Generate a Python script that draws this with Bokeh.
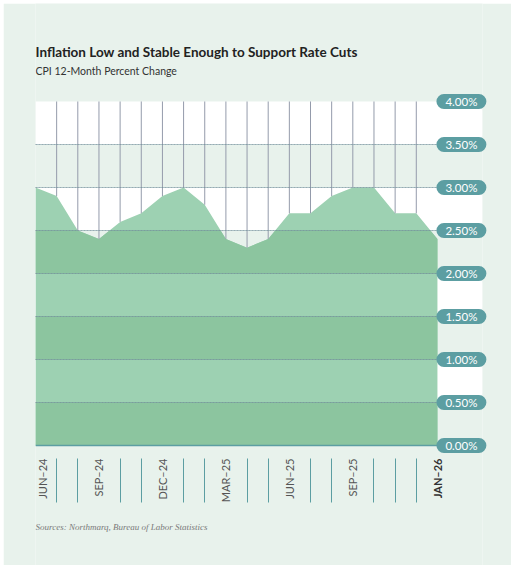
import numpy as np
from math import pi
from bokeh.plotting import figure
from bokeh.models import Range1d, FixedTicker, Grid
from bokeh.core.properties import value
from bokeh.embed import file_html
from bokeh.resources import INLINE

# ---------------- data ----------------
months = ["JUN–24", "JUL–24", "AUG–24", "SEP–24", "OCT–24", "NOV–24", "DEC–24",
          "JAN–25", "FEB–25", "MAR–25", "APR–25", "MAY–25", "JUN–25", "JUL–25",
          "AUG–25", "SEP–25", "OCT–25", "NOV–25", "DEC–25", "JAN–26"]
cpi = [3.0, 2.9, 2.5, 2.4, 2.6, 2.7, 2.9, 3.0, 2.8, 2.4,
       2.3, 2.4, 2.7, 2.7, 2.9, 3.0, 3.0, 2.7, 2.7, 2.4]
labeled_months = ["JUN–24", "SEP–24", "DEC–24", "MAR–25", "JUN–25", "SEP–25"]
highlight_month = "JAN–26"
y_ticks = [0.0, 0.5, 1.0, 1.5, 2.0, 2.5, 3.0, 3.5, 4.0]
y_tick_labels = ["0.00%", "0.50%", "1.00%", "1.50%", "2.00%", "2.50%", "3.00%", "3.50%", "4.00%"]

title_text = "Inflation Low and Stable Enough to Support Rate Cuts"
subtitle_text = "CPI 12-Month Percent Change"
source_text = "Sources: Northmarq, Bureau of Labor Statistics"

# ---------------- style ----------------
BG = "#e8f2ec"
WHITE = "#ffffff"
LIGHT_GREEN = "#9dd1b2"
DARK_GREEN = "#8cc59f"
TEAL = "#5c9ea2"
VLINE = "#949bab"
HLINE = "#7a8391"
FONT = "Lato"
X_PAD = 2.13          # room right of the last month for the value badges
Y_HEAD = 1.1395       # room above the top tick for the titles
Y_FLOOR = 1.3953      # room below zero for the month labels and source

idx = list(range(len(months)))
last = idx[-1]
y_top = y_ticks[-1]
y0 = y_ticks[0]

p = figure(frame_width=447, frame_height=562, output_backend="svg", toolbar_location=None,
           x_range=Range1d(0, last + X_PAD), y_range=Range1d(y0 - Y_FLOOR, y_top + Y_HEAD),
           y_axis_location=None, min_border_left=32, min_border_right=29,
           min_border_top=0, min_border_bottom=0)
p.margin = (3, 0, 0, 3)
p.background_fill_color = BG
p.border_fill_color = BG
p.outline_line_color = None
p.xgrid.visible = False
p.ygrid.visible = False

# alternating bands: white bands on odd intervals, extending under the badges
for k in range(len(y_ticks) - 1):
    lo, hi = y_ticks[k], y_ticks[k + 1]
    if k % 2 == 1:
        p.quad(left=0, right=last + X_PAD, bottom=lo, top=hi, fill_color=WHITE,
               line_color=None, border_radius=(0, 10, 10, 0))

# area
p.varea(x=idx, y1=y0, y2=cpi, fill_color=LIGHT_GREEN)


def band_curve(xs, ys, lo, hi):
    px, py = [xs[0]], [ys[0]]
    for k in range(len(xs) - 1):
        xa_, ya_, xb_, yb_ = xs[k], ys[k], xs[k + 1], ys[k + 1]
        cross = []
        for lev in (lo, hi):
            if (ya_ - lev) * (yb_ - lev) < 0:
                cross.append((lev - ya_) / (yb_ - ya_))
        for t in sorted(cross):
            px.append(xa_ + t * (xb_ - xa_))
            py.append(ya_ + t * (yb_ - ya_))
        px.append(xb_)
        py.append(yb_)
    return px, list(np.clip(py, lo, hi))


for k in range(len(y_ticks) - 1):
    lo, hi = y_ticks[k], y_ticks[k + 1]
    if k % 2 == 0:
        bx, by = band_curve(idx, cpi, lo, hi)
        p.varea(x=bx, y1=lo, y2=by, fill_color=DARK_GREEN)

# vertical month lines from top down to the curve
p.segment(x0=idx[1:-1], y0=cpi[1:-1], x1=idx[1:-1], y1=[y_top] * (len(idx) - 2),
          line_color=VLINE, line_width=1)

# horizontal gridlines: faint solid teal + fine dashed grey
for color, dash, alpha in ((TEAL, "solid", 0.35), (HLINE, "2 1", 0.55)):
    g = Grid(dimension=1, ticker=FixedTicker(ticks=y_ticks[1:-1]), level="guide",
             grid_line_color=color, grid_line_dash=dash, grid_line_alpha=alpha)
    try:
        g.cross_bounds = (0, last)
    except Exception:
        pass
    p.add_layout(g)

# x axis at zero: line + month ticks
label_idx = [months.index(m) for m in labeled_months]
hi_idx = months.index(highlight_month)
tick_idx = [i for i in idx if i not in label_idx and i != hi_idx]
xa = p.xaxis[0]
xa.fixed_location = y0
xa.ticker = FixedTicker(ticks=[], minor_ticks=tick_idx)
xa.bounds = (0, last)
xa.axis_line_color = TEAL
xa.axis_line_width = 1.5
xa.major_tick_line_color = None
xa.major_label_text_color = None
xa.minor_tick_line_color = TEAL
xa.minor_tick_line_width = 1
xa.minor_tick_in = -13
xa.minor_tick_out = 57

# month labels
common = dict(angle=pi / 2, text_align="right", y_offset=13,
              text_font=value(FONT), text_font_size=value("11px"))
p.text(x=label_idx[:1], y=[y0], text=labeled_months[:1], text_baseline="top",
       text_color="#555555", **common)
p.text(x=label_idx[1:], y=[y0] * (len(label_idx) - 1), text=labeled_months[1:],
       text_baseline="middle", text_color="#555555", **common)
p.text(x=[hi_idx], y=[y0], text=[highlight_month], text_baseline="middle",
       text_color="#333333", text_font_style="bold", **common)

# value badges on the right
p.text(x=[last] * len(y_ticks), y=y_ticks, text=y_tick_labels, x_offset=-1,
       text_align="left", text_baseline="middle", text_font=value(FONT),
       text_font_size=value("11.5px"), text_color=WHITE,
       background_fill_color=TEAL, border_radius=8, padding=(9, 9, 1, 1), level="overlay")

# titles and source
p.text(x=[0], y=[y_top], text=[title_text], y_offset=-49.5, text_align="left",
       text_baseline="middle", text_font=value(FONT), text_font_size=value("13.5px"),
       text_font_style="bold", text_color="#222222")
p.text(x=[0], y=[y_top], text=[subtitle_text], y_offset=-30.5, text_align="left",
       text_baseline="middle", text_font=value(FONT), text_font_size=value("10.5px"),
       text_color="#333333")
p.text(x=[0], y=[y0], text=[source_text], y_offset=81, text_align="left",
       text_baseline="middle", text_font=value("Liberation Serif"),
       text_font_size=value("9px"), text_font_style="italic", text_color="#7a7a7a")

open("out.html", "w").write(file_html(p, INLINE))
